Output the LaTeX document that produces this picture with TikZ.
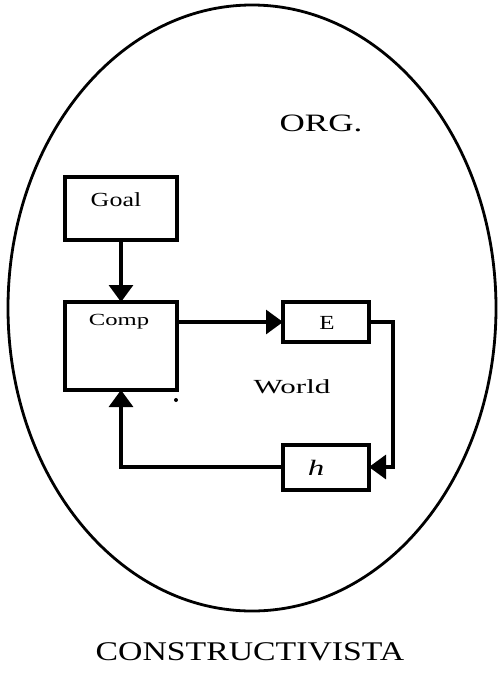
\documentclass[tikz,border=0pt]{standalone}
\usepackage{fontspec}
\setmainfont{Liberation Serif}
\usetikzlibrary{arrows.meta}
\begin{document}
\begin{tikzpicture}[x=1pt,y=-1pt,
  blk/.style={draw,line width=3.4pt,minimum width=#1,inner sep=0pt,outer sep=0pt,anchor=north west},
  flow/.style={line width=3.2pt,-{Triangle[length=17pt,width=24pt]}},
  lbl/.style={inner sep=0pt}]
\useasboundingbox (0,0) rectangle (499,675);
% outer organism boundary
\draw[line width=2.8pt] (252,308) ellipse [x radius=244,y radius=303];
% blocks
\node[blk=112pt,minimum height=63pt] (goal) at (65,177) {};
\node[blk=112pt,minimum height=88pt] (comp) at (65,302) {};
\node[blk=86pt,minimum height=40pt] (e) at (283,302) {};
\node[blk=86pt,minimum height=45pt] (h) at (283,445) {};
% labels
\node[lbl,xscale=1.3,font=\fontsize{20}{20}\selectfont] (tgoal) at (116,200) {Goal};
\node[lbl,xscale=1.45,font=\fontsize{17}{17}\selectfont] (tcomp) at (119,322) {Comp};
\node[lbl,xscale=1.25,font=\fontsize{20}{20}\selectfont] (te) at (327,323) {E};
\node[lbl,xscale=1.5,font=\fontsize{22}{22}\selectfont\itshape] (th) at (316,468) {h};
\node[lbl,xscale=1.55,font=\fontsize{20}{20}\selectfont] (world) at (292,387) {World};
\node[lbl,xscale=1.4,font=\fontsize{25}{25}\selectfont] (org) at (321,123) {ORG.};
\node[lbl,xscale=1.25,font=\fontsize{27}{27}\selectfont] (cons) at (250,652) {CONSTRUCTIVISTA};
\fill (176,400) circle (2pt);
% connectors
\coordinate (cgo) at (121,240);
\coordinate (cgi) at (121,302);
\coordinate (co) at (177,322);
\coordinate (ei) at (283,322);
\coordinate (eo) at (369,322);
\coordinate (er) at (393,322);
\coordinate (hr) at (393,467);
\coordinate (hi) at (369,467);
\coordinate (ho) at (283,467);
\coordinate (cb) at (121,467);
\coordinate (ci) at (121,390);
\draw[flow] (cgo) -- (cgi);
\draw[flow] (co) -- (ei);
\draw[flow] (eo) -- (er) -- (hr) -- (hi);
\draw[flow] (ho) -- (cb) -- (ci);
\end{tikzpicture}
\end{document}
